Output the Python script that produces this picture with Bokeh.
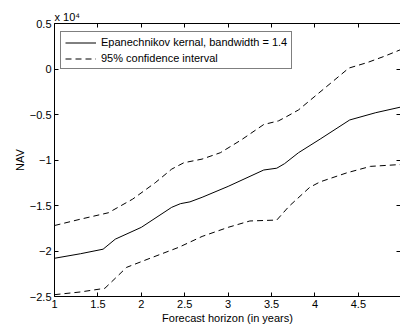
from bokeh.plotting import figure
from bokeh.models import (LinearAxis, FixedTicker, Range1d, Legend, LegendItem,
                          CustomLabelingPolicy, CustomJSTickFormatter)
from bokeh.embed import file_html
from bokeh.resources import INLINE

# Data (NAV in units of 10^4)
x_fit = [1.00, 1.30, 1.56, 1.70, 2.00, 2.35, 2.45, 2.56, 2.70, 3.00, 3.41, 3.56, 3.65, 3.81, 4.06, 4.40, 4.70, 4.98]
nav_fit = [-2.08, -2.03, -1.98, -1.87, -1.74, -1.52, -1.48, -1.46, -1.41, -1.29, -1.11, -1.09, -1.04, -0.92, -0.77, -0.56, -0.48, -0.42]

x_upper = [1.00, 1.30, 1.62, 1.90, 2.16, 2.35, 2.49, 2.70, 2.91, 3.15, 3.41, 3.58, 3.66, 3.81, 4.10, 4.39, 4.60, 4.80, 4.98]
nav_upper = [-1.72, -1.65, -1.58, -1.43, -1.25, -1.10, -1.03, -0.99, -0.92, -0.78, -0.61, -0.57, -0.53, -0.45, -0.22, 0.01, 0.07, 0.14, 0.21]

x_lower = [1.00, 1.30, 1.58, 1.70, 1.83, 2.10, 2.43, 2.70, 3.00, 3.25, 3.56, 3.70, 3.94, 4.06, 4.37, 4.64, 4.98]
nav_lower = [-2.48, -2.45, -2.41, -2.30, -2.18, -2.08, -1.96, -1.84, -1.74, -1.67, -1.66, -1.51, -1.30, -1.24, -1.14, -1.07, -1.05]

x_ticks = [1, 1.5, 2, 2.5, 3, 3.5, 4, 4.5, 5]
x_tick_labels = ["1", "1.5", "2", "2.5", "3", "3.5", "4", "4.5", "5"]
y_ticks = [-2.5, -2, -1.5, -1, -0.5, 0, 0.5]
y_tick_labels = ["\u22122.5", "\u22122", "\u22121.5", "\u22121", "\u22120.5", "0", "0.5"]

FONT = "Liberation Sans"
FS = "11px"

p = figure(width=400, height=331, output_backend="svg", toolbar_location=None,
           x_range=Range1d(1, 4.985), y_range=Range1d(-2.5, 0.5),
           min_border_left=54, min_border_right=0, min_border_top=23, min_border_bottom=35,
           x_axis_label="Forecast horizon (in years)", y_axis_label="NAV",
           title="x 10\u2074")
p.title.text_font = FONT
p.title.text_font_size = FS
p.title.text_font_style = "normal"
p.title.text_color = "black"
p.title.align = "left"
p.title.offset = 0
p.title.standoff = 2
p.grid.visible = False
p.outline_line_color = None
p.background_fill_color = "white"
p.border_fill_color = "white"

def style_axis(ax, ticks, labels=None, show_labels=True, line=True):
    ax.ticker = FixedTicker(ticks=ticks)
    if labels is not None:
        ax.major_label_overrides = {t: l for t, l in zip(ticks, labels)}
    ax.major_tick_in = 4
    ax.major_tick_out = 0
    ax.minor_tick_in = 0
    ax.minor_tick_out = 0
    ax.major_tick_line_color = "black"
    ax.axis_line_color = "black" if line else None
    ax.axis_line_width = 1
    ax.major_label_text_font = FONT
    ax.major_label_text_font_size = FS
    ax.major_label_text_color = "black"
    ax.axis_label_text_font = FONT
    ax.axis_label_text_font_size = FS
    ax.axis_label_text_font_style = "normal"
    ax.axis_label_text_color = "black"
    if not show_labels:
        ax.formatter = CustomJSTickFormatter(code="return ''")
        ax.major_label_policy = CustomLabelingPolicy(code="for (const i of indices) indices.unset(i)")
        ax.major_label_standoff = 0

style_axis(p.xaxis[0], x_ticks, x_tick_labels)
p.xaxis[0].major_label_standoff = 3
p.xaxis[0].axis_label_standoff = 1
style_axis(p.yaxis[0], y_ticks, y_tick_labels)
p.yaxis[0].major_label_standoff = 3
p.yaxis[0].axis_label_standoff = 1

top = LinearAxis()
style_axis(top, x_ticks, show_labels=False)
p.add_layout(top, "above")
right = LinearAxis()
style_axis(right, y_ticks, show_labels=False, line=False)
p.add_layout(right, "right")

r_fit = p.line(x_fit, nav_fit, line_color="black", line_width=1)
r_up = p.line(x_upper, nav_upper, line_color="black", line_width=1, line_dash="6 4")
p.line(x_lower, nav_lower, line_color="black", line_width=1, line_dash="6 4")

legend = Legend(items=[LegendItem(label="Epanechnikov kernal, bandwidth = 1.4", renderers=[r_fit]),
                       LegendItem(label="95% confidence interval", renderers=[r_up])],
                location=(6, 227))
legend.border_line_color = "black"
legend.border_line_width = 1
legend.background_fill_color = "white"
legend.background_fill_alpha = 1
legend.label_text_font = FONT
legend.label_text_font_size = FS
legend.label_text_color = "black"
legend.glyph_width = 31
legend.glyph_height = 11
legend.label_height = 11
legend.spacing = 4
legend.padding = 4
legend.margin = 0
legend.label_standoff = 5
p.add_layout(legend, "center")

open("out.html", "w").write(file_html(p, INLINE))
